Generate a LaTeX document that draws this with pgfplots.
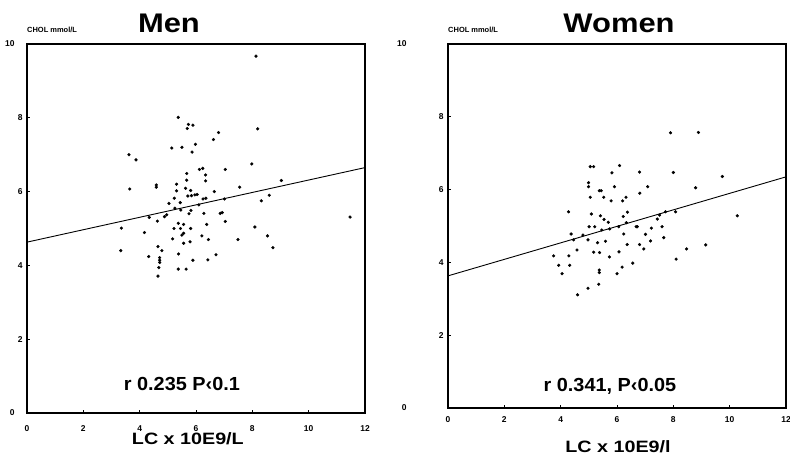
\documentclass[border=0pt]{standalone}
\usepackage{fontspec}
\setmainfont{Liberation Sans}
\usepackage{pgfplots}
\pgfplotsset{compat=1.18}
\tikzset{
  lab/.style={font=\fontsize{16.5}{18}\selectfont\bfseries, xscale=1.2},
  rlab/.style={font=\fontsize{19}{21}\selectfont\bfseries, xscale=1.05},
  ttl/.style={font=\fontsize{27}{30}\selectfont\bfseries, xscale=1.15},
  unit/.style={font=\fontsize{7.5}{9}\selectfont\bfseries, inner sep=0pt},
}
\begin{document}
\begin{tikzpicture}[x=1bp,y=1bp]
\useasboundingbox (0,0) rectangle (790,456);
\pgfplotsset{
  panel/.style={
    scale only axis, width=338bp, anchor=south west,
    xmin=0, xmax=12, ymin=0, ymax=10,
    xtick={0,2,...,12}, ytick={2,4,6,8},
    extra y ticks={0,10},
    xtick pos=bottom, ytick pos=left,
    tick align=inside, major tick length=3bp,
    axis line style={line width=1.1bp},
    tick style={black, line width=0.8bp},
    /pgf/number format/assume math mode=true,
    ticklabel style={font=\fontsize{8.5}{9}\selectfont\bfseries},
    clip=false,
  },
  dots/.style={only marks, mark=*, mark size=1.4bp, black},
  fit/.style={black, line width=0.9bp, no marks},
}
% Men
\begin{axis}[panel, height=369bp, at={(27bp,43bp)},
  xticklabel style={yshift=-9bp},
  yticklabel style={xshift=-1bp},
  extra y tick style={yticklabel style={xshift=-8bp}}]
\addplot[dots] coordinates {
(5.37,8.01) (5.73,7.82) (5.89,7.80) (5.69,7.71) (5.14,7.18) (5.50,7.20)
(5.98,7.28) (5.86,7.07) (3.62,7.00) (3.87,6.86) (6.12,6.60) (6.24,6.63)
(6.34,6.45) (5.67,6.49) (5.67,6.31) (6.34,6.29) (4.59,6.18) (4.59,6.12)
(3.65,6.07) (5.31,6.20) (5.63,6.09) (5.31,6.02) (5.81,6.03) (5.84,5.89)
(5.96,5.91) (6.04,5.92) (5.71,5.88) (5.23,5.82) (6.25,5.80) (6.35,5.82)
(5.04,5.68) (5.44,5.70) (5.25,5.55) (6.10,5.64) (5.82,5.49) (5.46,5.50)
(5.75,5.40) (4.96,5.37) (4.88,5.32) (6.28,5.41) (4.34,5.30) (4.63,5.20)
(3.35,5.01) (4.17,4.89) (5.37,5.14) (5.56,5.11) (5.22,5.00) (5.45,5.00)
(5.81,5.00) (5.56,4.87) (5.50,4.82) (5.17,4.72) (6.38,5.11) (6.21,4.80)
(6.44,4.70) (5.79,4.64) (5.56,4.60) (3.33,4.40) (4.65,4.51) (4.79,4.40)
(5.38,4.31) (4.32,4.24) (4.71,4.21) (4.71,4.14) (4.71,4.08) (5.89,4.14)
(6.42,4.15) (4.68,3.94) (5.37,3.90) (5.65,3.90) (4.65,3.71) (8.19,7.70)
(6.80,7.60) (6.62,7.41) (7.04,6.60) (7.98,6.75) (6.65,6.00) (7.55,6.12)
(9.03,6.30) (8.60,5.90) (8.32,5.75) (7.01,5.80) (6.86,5.41) (6.93,5.43)
(7.04,5.19) (8.09,5.04) (8.54,4.80) (7.49,4.70) (8.73,4.48) (6.71,4.29)
(8.13,9.67) (11.47,5.31)
};
\addplot[fit] coordinates {(0,4.63) (12,6.65)};
\node[unit, anchor=base west] at (rel axis cs:0,1) [yshift=11bp] {CHOL mmol/L};
\node[ttl, anchor=base] at (rel axis cs:0.42,1) [yshift=11bp] {Men};
\node[lab, anchor=base] at (rel axis cs:0.476,0) [yshift=-32bp] {LC x 10E9/L};
\node[rlab, anchor=base] at (axis cs:5.5,0.6) {r 0.235 P‹0.1};
\end{axis}
% Women
\begin{axis}[panel, height=364bp, at={(448bp,48bp)},
  xticklabel style={yshift=-5bp},
  yticklabel style={xshift=-1bp},
  extra y tick style={yticklabel style={xshift=-37bp}}]
\addplot[dots] coordinates {
(5.05,6.63) (5.17,6.63) (6.09,6.66) (5.82,6.46) (6.80,6.48) (4.99,6.19)
(4.99,6.08) (5.37,5.97) (5.44,5.97) (5.91,6.08) (5.05,5.79) (5.53,5.79)
(5.79,5.69) (6.32,5.79) (6.20,5.69) (6.81,5.90) (4.28,5.39) (5.09,5.33)
(5.41,5.28) (5.54,5.18) (5.69,5.10) (6.37,5.38) (6.22,5.26) (6.33,5.09)
(5.01,4.98) (5.21,4.98) (5.46,4.89) (5.74,4.92) (6.06,4.98) (6.68,4.98)
(4.37,4.78) (4.79,4.75) (4.46,4.62) (4.97,4.62) (5.31,4.54) (5.59,4.58)
(6.24,4.78) (4.58,4.34) (5.17,4.28) (5.38,4.27) (6.07,4.29) (6.36,4.49)
(6.80,4.49) (3.75,4.18) (4.29,4.18) (5.73,4.15) (3.93,3.92) (4.32,3.92)
(5.37,3.79) (5.37,3.72) (6.18,3.87) (6.56,3.98) (4.05,3.69) (6.00,3.69)
(5.35,3.40) (4.97,3.29) (4.60,3.11) (7.90,7.56) (8.89,7.57) (8.00,6.47)
(9.74,6.36) (7.09,6.08) (8.79,6.05) (7.72,5.39) (8.08,5.39) (7.51,5.30)
(7.43,5.19) (6.72,4.98) (7.22,4.94) (7.60,4.98) (7.01,4.77) (7.66,4.68)
(7.19,4.59) (6.95,4.37) (9.15,4.48) (8.47,4.37) (10.27,5.28) (8.10,4.09)
};
\addplot[fit] coordinates {(0,3.63) (12,6.35)};
\node[unit, anchor=base west] at (rel axis cs:0,1) [yshift=11bp] {CHOL mmol/L};
\node[ttl, anchor=base] at (rel axis cs:0.506,1) [yshift=11bp] {Women};
\node[lab, anchor=base] at (rel axis cs:0.503,0) [yshift=-45bp] {LC x 10E9/l};
\node[rlab, anchor=base] at (axis cs:5.75,0.45) {r 0.341, P‹0.05};
\end{axis}
\end{tikzpicture}
\end{document}
